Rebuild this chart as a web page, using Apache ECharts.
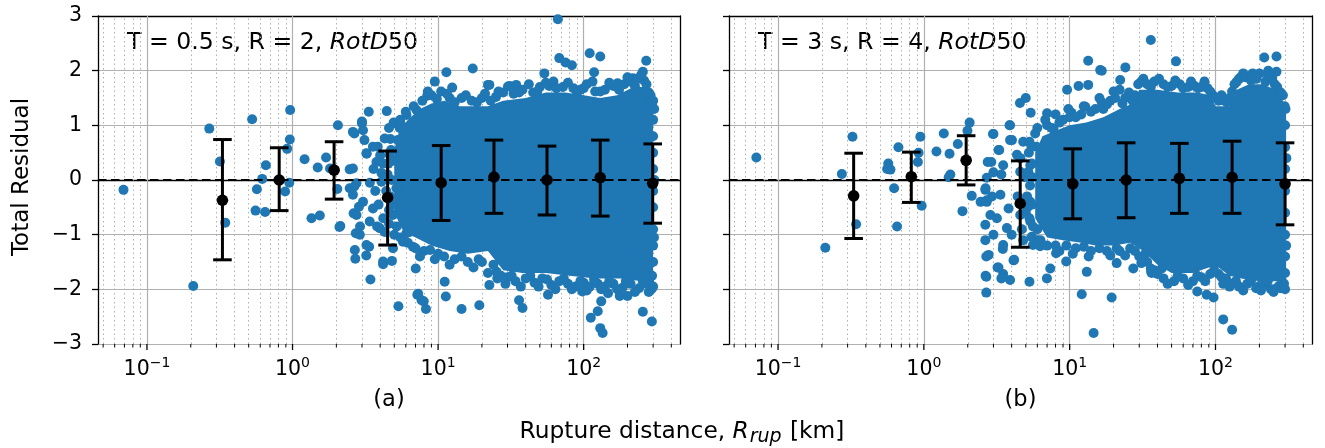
<!DOCTYPE html>
<html>
<head>
<meta charset="utf-8">
<script src="https://cdn.jsdelivr.net/npm/echarts@6/dist/echarts.min.js"></script>
<style>
  html, body { margin: 0; padding: 0; background: #fff; }
  #chart { width: 1325px; height: 448px; }
</style>
</head>
<body>
<div id="chart"></div>
<script>
// binned mean and error bars (distance in km, residual)
const binDistA = [0.33, 0.81, 1.93, 4.5, 10.5, 24.2, 56, 130, 298]
const meanA = [-0.37, 0.0, 0.18, -0.32, -0.05, 0.055, 0.0, 0.045, -0.06]
const lowA = [-1.46, -0.56, -0.35, -1.19, -0.74, -0.61, -0.64, -0.66, -0.79]
const highA = [0.74, 0.59, 0.70, 0.53, 0.63, 0.73, 0.62, 0.73, 0.66]

const binDistB = [0.33, 0.82, 1.95, 4.58, 10.5, 24.4, 56.5, 130, 300]
const meanB = [-0.29, 0.06, 0.36, -0.43, -0.07, 0.0, 0.03, 0.05, -0.07]
const lowB = [-1.07, -0.41, -0.09, -1.23, -0.71, -0.69, -0.61, -0.61, -0.82]
const highB = [0.49, 0.51, 0.81, 0.35, 0.57, 0.68, 0.67, 0.71, 0.68]

// residual points, panel (a): isolated records
const sparseA = [
  [0.069, -0.18], [0.208, -1.94], [0.268, 0.94], [0.317, 0.34], [0.345, -0.78], [0.528, 1.11],
  [0.569, -0.17], [0.557, -0.56], [0.648, -0.585], [0.656, 0.27], [0.619, 0.02], [0.963, 1.28],
  [0.958, 0.74], [0.918, 0.57], [0.95, -0.05], [0.889, -0.21], [1.21, 0.38], [1.49, 0.23],
  [1.35, -0.70], [1.54, -0.65], [1.70, 0.41], [1.81, 0.21], [2.05, 1.0], [2.03, -0.165],
  [2.10, -0.86], [2.47, 0.195], [2.66, 0.85], [3.0, 1.04], [3.34, 1.25], [3.12, 0.73],
  [3.23, 0.48], [3.85, 0.61], [4.44, 1.26], [5.04, 1.04], [2.63, -0.61], [2.72, -0.975],
  [2.68, -1.28], [2.70, -1.44], [3.21, -1.38], [3.36, -1.22], [3.43, -1.82], [4.19, -1.54],
  [4.82, -1.48], [5.34, -2.31], [7.02, -1.62], [7.2, -2.10], [7.97, -2.22], [8.25, -2.36],
  [2.91, -0.85], [2.86, -0.49], [2.66, -0.12], [3.81, -0.85], [6.06, -0.975], [6.72, -1.22],
  [6.38, -0.61], [17.3, 2.04], [11.4, 1.97], [9.49, 1.80], [12.5, 1.69], [22.0, 1.74],
  [8.42, 1.54], [3.0, 1.07], [7.1, 1.28], [4.95, 1.05], [5.3, 0.73], [2.6, 0.21],
  [2.47, -0.15], [2.13, -0.84], [4.19, -1.49], [11.1, -1.86], [11.3, -2.13], [14.5, -2.36],
  [19.2, -2.29], [7.3, -2.08], [7.7, -2.2], [66.5, 2.94], [110, 2.32], [130, 2.26],
  [269, 2.18], [68, 2.23], [75, 2.15], [83, 2.1], [53.7, 1.95], [118, 1.97],
  [34.4, 1.74], [30.2, 1.71], [218, 1.86], [171, 1.77], [255, 1.98], [22.5, 1.74],
  [36, -2.2], [38, -2.34], [56.9, -2.1], [97.9, -2.04], [112, -2.52], [125, -2.40],
  [132, -2.22], [130, -2.71], [135, -2.8], [147, -2.07], [177, -2.12], [200, -2.12],
  [255, -2.41], [294, -2.59], [282, -1.86], [22.5, -1.92], [25.2, -1.68],
  [2.6, 0.88], [3.05, 0.91], [3.22, 0.49], [3.77, 0.33], [4.08, 0.13], [4.08, -0.03],
  [2.75, -0.06], [2.6, -0.27], [3.05, -0.4], [3.57, -0.52], [2.75, -0.64], [3.39, -0.76],
  [3.97, -0.88], [2.9, -1.0], [4.9, -0.64], [4.9, -1.25], [3.22, -1.19], [5.17, -0.15],
  [3.57, 0.61], [4.65, 0.46], [4.3, 0.76], [5.45, 0.95], [6.06, 1.19], [6.38, -0.95],
  [5.73, -1.13],
  [4.2, 0.3], [4.4, -0.2], [4.6, -0.55], [4.5, 0.1], [4.0, 0.45], [4.7, 0.75], [5.0, 0.35],
  [5.2, -0.85], [5.0, -1.0], [4.3, -0.95], [4.6, 0.95], [5.6, 1.0], [3.6, 0.2], [3.7, -0.2],
  [3.4, -0.05], [3.9, -0.45], [4.2, -0.7],
  [4.55, 0.3], [4.7, -0.3], [4.75, 0.55], [4.6, -0.8], [4.8, 0.0], [4.85, -0.45]
]
// panel (a): records on the ragged rim of the dense cloud
const rimA = [
  [9, 1.55], [10.5, 1.62], [12, 1.5], [14.5, 1.5], [17, 1.45], [20, 1.5], [25, 1.52], [28, 1.6],
  [33, 1.58], [38, 1.65], [45, 1.6], [50, 1.7], [58, 1.72], [62, 1.8], [72, 1.7], [85, 1.68],
  [95, 1.65], [105, 1.75], [120, 1.62], [140, 1.65], [160, 1.72], [190, 1.75], [210, 1.8],
  [235, 1.85], [260, 1.82], [280, 1.6], [295, 1.4],
  [5.5, 1.1], [6, 1.25], [6.8, 1.35], [7.8, 1.45], [8.5, 1.62], [9.8, 1.48], [11.5, 1.58],
  [13, 1.42], [15.5, 1.55], [18.5, 1.42], [21, 1.58], [23, 1.45], [26, 1.62], [31, 1.72],
  [36, 1.6], [42, 1.75], [48, 1.62], [55, 1.78], [65, 1.68], [78, 1.78], [90, 1.6], [100, 1.68],
  [115, 1.8], [130, 1.62], [150, 1.78], [175, 1.65], [200, 1.88], [225, 1.72], [248, 1.92],
  [270, 1.75], [288, 1.55], [300, 1.45],
  [8, -1.3], [10, -1.35], [13, -1.45], [16, -1.5], [19, -1.45], [24, -1.55], [27, -1.75],
  [30, -1.78], [34, -1.85], [40, -1.8], [46, -1.88], [52, -1.8], [60, -1.92], [68, -1.85],
  [78, -1.9], [88, -1.95], [100, -1.88], [110, -1.95], [125, -1.9], [140, -1.95], [160, -1.9],
  [185, -1.97], [210, -1.9], [240, -1.98], [270, -1.9], [292, -2.0],
  [5.5, -1.05], [6.2, -1.15], [7, -1.25], [7.5, -1.4], [8.8, -1.28], [9.5, -1.45], [11, -1.4],
  [12, -1.55], [14.5, -1.4], [17.5, -1.6], [20, -1.5], [22, -1.7], [25.5, -1.8], [29, -1.9],
  [32, -1.75], [37, -1.95], [43, -1.75], [49, -1.95], [56, -1.82], [64, -2.0], [73, -1.8],
  [83, -2.0], [95, -1.85], [105, -2.02], [118, -1.82], [132, -2.0], [150, -1.85], [170, -2.0],
  [195, -1.85], [225, -2.05], [255, -1.85], [280, -2.05], [300, -1.95],
  [300, 1.1], [300, 0.8], [300, 0.5], [300, 0.2], [300, -0.2], [300, -0.5], [300, -0.9],
  [300, -1.2], [300, -1.5], [295, -1.75], [305, 1.3], [306, 0.0], [304, -1.05]
]
// panel (a): outline of the solid cloud (records overlap completely inside)
const coreA = [
  [5.0, 0.55], [5.4, 0.9], [6.2, 1.1], [7.5, 1.3], [9, 1.4], [11, 1.45], [14, 1.35], [18, 1.35],
  [22, 1.35], [28, 1.45], [40, 1.5], [55, 1.6], [75, 1.6], [100, 1.55], [130, 1.5], [170, 1.55],
  [220, 1.7], [270, 1.7], [300, 1.3],
  [300, -1.8], [250, -1.85], [180, -1.8], [120, -1.8], [80, -1.75], [55, -1.7], [38, -1.7],
  [28, -1.65], [22, -1.3], [16, -1.35], [12, -1.3], [9, -1.2], [7, -1.05], [5.8, -0.95], [5.0, -0.6]
]

// residual points, panel (b)
const sparseB = [
  [0.071, 0.41], [0.211, -1.24], [0.274, 0.11], [0.324, 0.79], [0.343, -0.81], [0.57, 0.3],
  [0.56, 0.2], [0.59, 0.19], [0.625, -0.15], [0.655, -0.85], [0.669, 0.60], [0.946, 0.79],
  [0.92, 0.5], [0.91, 0.33], [0.966, -0.47], [1.22, 0.52], [1.37, 0.85], [1.50, 0.48],
  [1.52, 0.1], [1.48, 0.05], [1.71, 0.66], [2.06, 1.05], [1.99, 0.9], [2.13, -0.29],
  [1.84, -0.57], [3.0, 0.84], [3.29, 0.55], [2.74, 0.33], [2.64, -0.18], [2.7, -0.37],
  [3.87, 1.0], [4.02, 0.73], [2.64, -1.1], [2.68, -1.40], [2.65, -1.75], [2.68, -2.06],
  [3.2, -1.6], [3.5, -1.72], [3.9, -1.83], [3.48, -1.26], [4.12, -1.47], [5.3, -1.86],
  [6.27, -1.21], [13.4, 2.18], [16.2, 2.01], [9.6, 1.65], [11.5, 1.72], [13.4, 1.74],
  [4.56, 1.41], [5.0, 1.5], [5.4, 1.23], [7.0, 1.22], [3.9, 1.0], [2.98, 0.84],
  [3.25, 0.55], [3.9, 0.73], [7.74, 0.94], [10.3, 1.23], [12.8, 1.34], [2.9, 0.33],
  [3.5, 0.27], [2.65, -0.15], [2.7, -0.4], [2.86, -0.64], [2.64, -0.82], [2.78, -1.37],
  [2.68, -1.77], [3.25, -1.6], [3.4, -1.8], [4.16, -1.46], [6.98, -1.8], [7.36, -1.62],
  [8.07, -1.34], [9.47, -1.49], [13.1, -1.68], [12.1, -2.09], [14.6, -2.80], [5.6, -1.19],
  [5.5, -1.04], [36, 2.56], [53.6, 2.17], [24.1, 2.06], [16.6, 2.0], [22.2, 1.83],
  [216, 2.24], [262, 1.98], [113, -2.55], [130, -2.74], [97, -2.15], [75, -2.04],
  [87, -2.1], [19.4, -2.15], [113, -1.9], [200, -1.94], [250, -2.05], [280, -1.98],
  [36.5, -1.70], [27.3, -1.62], [21, -1.52], [20, 1.62], [22, 1.65], [16.6, 1.42],
  [230, 2.0], [262, 2.26], [150, 1.89], [180, 1.95], [42.8, -1.62], [36.2, -1.68],
  [2.7, 0.04], [3.0, 0.14], [3.4, 0.1], [2.45, -0.4], [2.93, -0.3], [3.35, -0.27],
  [3.81, -0.52], [3.17, -0.7], [3.71, -0.88], [3.0, -1.0], [3.5, -1.19], [4.0, -1.0],
  [4.58, -0.64], [5.37, -0.76], [5.37, -0.4], [4.35, 0.46], [4.8, 0.7], [5.9, 0.61],
  [5.37, 0.27], [4.58, 0.15],
  [4.6, 0.4], [4.9, 0.05], [5.1, -0.3], [5.0, -0.6], [4.7, -0.9], [5.3, 0.7], [5.8, 0.85],
  [6.0, -0.9], [5.5, 0.3], [4.4, -0.3], [4.8, -1.1], [6.3, -1.1],
  [5.2, 0.15], [5.35, -0.1], [5.5, -0.45], [5.25, 0.5], [5.45, 0.62], [5.6, -0.85],
  [5.3, -0.7], [5.55, 0.05], [5.15, -0.5]
]
const rimB = [
  [7, 1.0], [8.5, 1.05], [10, 1.15], [12, 1.2], [14, 1.25], [17, 1.3], [19, 1.45], [24, 1.5],
  [28, 1.55], [31, 1.8], [34, 1.75], [38, 1.8], [44, 1.75], [50, 1.72], [57, 1.75], [65, 1.7],
  [72, 1.72], [80, 1.7], [88, 1.68], [96, 1.55], [105, 1.45], [115, 1.45], [125, 1.5],
  [135, 1.75], [145, 1.85], [160, 1.88], [190, 1.85], [230, 1.9], [255, 1.75], [280, 1.6],
  [298, 1.35],
  [6, 0.95], [6.8, 1.1], [7.5, 0.95], [8, 1.2], [9, 1.1], [9.8, 1.3], [11, 1.15], [12.5, 1.35],
  [15, 1.3], [16, 1.5], [18, 1.38], [20.5, 1.5], [23, 1.4], [25.5, 1.6], [27, 1.45], [29.5, 1.75],
  [32, 1.85], [36, 1.7], [41, 1.85], [47, 1.7], [53, 1.82], [60, 1.68], [68, 1.8], [76, 1.68],
  [84, 1.8], [92, 1.62], [100, 1.5], [110, 1.55], [120, 1.42], [130, 1.62], [140, 1.8],
  [155, 1.95], [175, 1.82], [200, 1.95], [220, 1.8], [245, 1.85], [265, 1.7], [290, 1.55],
  [302, 1.3],
  [8, -1.2], [11, -1.25], [14, -1.3], [18, -1.3], [22, -1.3], [26, -1.25], [30, -1.4],
  [34, -1.5], [38, -1.65], [44, -1.8], [52, -1.85], [60, -1.8], [70, -1.85], [80, -1.78],
  [92, -1.72], [105, -1.72], [118, -1.8], [130, -1.9], [145, -1.95], [165, -1.9], [190, -1.98],
  [215, -1.92], [240, -2.0], [270, -1.95], [295, -1.9],
  [6, -1.1], [7, -1.2], [8.5, -1.3], [9.5, -1.2], [10.5, -1.35], [12.5, -1.22], [13.5, -1.4],
  [16, -1.25], [19, -1.38], [21, -1.25], [24, -1.38], [28, -1.3], [31, -1.52], [33, -1.35],
  [36, -1.62], [40, -1.72], [47, -1.9], [55, -1.75], [65, -1.92], [75, -1.75], [85, -1.85],
  [98, -1.65], [110, -1.78], [125, -1.95], [138, -1.85], [155, -2.02], [175, -1.85], [205, -2.02],
  [228, -1.85], [255, -2.0], [285, -1.85], [300, -2.0],
  [300, 1.0], [300, 0.6], [300, 0.2], [300, -0.2], [300, -0.6], [300, -1.0], [300, -1.4],
  [300, -1.7], [306, 0.4], [305, -1.2]
]
const coreB = [
  [5.8, 0.5], [6.5, 0.8], [8, 0.9], [10, 1.0], [13, 1.05], [17, 1.15], [22, 1.3], [27, 1.4],
  [30, 1.65], [40, 1.65], [55, 1.6], [75, 1.6], [92, 1.55], [100, 1.35], [125, 1.35], [140, 1.65],
  [170, 1.75], [210, 1.75], [260, 1.65], [290, 1.45], [305, 1.2],
  [305, -1.8], [260, -1.85], [200, -1.85], [150, -1.8], [125, -1.75], [105, -1.6], [90, -1.6],
  [70, -1.7], [50, -1.7], [40, -1.55], [32, -1.3], [26, -1.15], [20, -1.2], [15, -1.2],
  [12, -1.15], [9, -1.1], [7, -1.05], [5.8, -0.7]
]

// axis ticks
const majorTicks = [0.1, 1, 10, 100]
const minorTicks = [0.05, 0.06, 0.07, 0.08, 0.09, 0.2, 0.3, 0.4, 0.5, 0.6, 0.7, 0.8, 0.9,
  2, 3, 4, 5, 6, 7, 8, 9, 20, 30, 40, 50, 60, 70, 80, 90, 200, 300, 400]
const X_MIN = 0.0461
const X_MAX = 459
const Y_MIN = -3
const Y_MAX = 3

const FONT = 'DejaVu Sans'
const BLUE = '#1f77b4'
const GRID_GREY = '#b0b0b0'
const MINUS = '\u2212'
const SPINE = { color: '#000', width: 1.3 }

function xAxisFor(gridIndex) {
  return {
    type: 'log',
    logBase: 10,
    gridIndex,
    min: X_MIN,
    max: X_MAX,
    axisLine: { show: true, lineStyle: SPINE },
    axisTick: { show: false },
    splitLine: { show: false },
    minorTick: { show: false },
    axisLabel: {
      margin: 12,
      showMinLabel: false,
      showMaxLabel: false,
      formatter: function(v) {
        const k = Math.log10(v)
        const r = Math.round(k)
        if (Math.abs(k - r) > 1e-6) return ''
        return '{b|10}{s|' + (r < 0 ? MINUS + (-r) : r) + '}'
      },
      rich: {
        b: { fontFamily: FONT, fontSize: 20.5, color: '#000', lineHeight: 28 },
        s: { fontFamily: FONT, fontSize: 14, color: '#000', lineHeight: 14, verticalAlign: 'top' }
      }
    }
  }
}

// top / right spines
function spineAxis(gridIndex, position) {
  return {
    type: 'value',
    gridIndex,
    position,
    min: 0,
    max: 1,
    axisLine: { show: true, onZero: false, lineStyle: SPINE },
    axisTick: { show: false },
    axisLabel: { show: false },
    splitLine: { show: false }
  }
}

function yAxisFor(gridIndex, showLabels) {
  return {
    type: 'value',
    gridIndex,
    position: 'left',
    min: Y_MIN,
    max: Y_MAX,
    interval: 1,
    axisLine: { show: true, onZero: false, lineStyle: SPINE },
    axisTick: { show: true, length: 6, lineStyle: SPINE },
    splitLine: { show: true, lineStyle: { color: GRID_GREY, width: 1.2 } },
    axisLabel: {
      show: showLabels,
      margin: 16,
      fontFamily: FONT,
      fontSize: 20.5,
      color: '#000',
      formatter: v => (v < 0 ? MINUS + (-v) : String(v))
    }
  }
}

// ticks under the x axis, plus the vertical grid lines
function tickSeries(g) {
  const ticks = majorTicks.map(v => [v, 1]).concat(minorTicks.map(v => [v, 0]))
  return {
    type: 'custom',
    xAxisIndex: g,
    yAxisIndex: g,
    clip: false,
    silent: true,
    z: 1,
    data: ticks,
    encode: { x: 0 },
    renderItem(params, api) {
      const p = api.coord([api.value(0), Y_MIN])
      const major = api.value(1) === 1
      const len = major ? 6 : 3.5
      return {
        type: 'line',
        shape: { x1: p[0], y1: p[1], x2: p[0], y2: p[1] + len },
        style: { stroke: '#000', lineWidth: major ? 1.3 : 1 }
      }
    },
    markLine: {
      silent: true,
      symbol: 'none',
      z: 1,
      label: { show: false },
      animation: false,
      data: majorTicks.map(v => ({ xAxis: v, lineStyle: { color: GRID_GREY, width: 1.2, type: 'solid' } }))
        .concat(minorTicks.map(v => ({ xAxis: v, lineStyle: { color: GRID_GREY, width: 1, type: [1.5, 3] } })))
    }
  }
}

function coreSeries(g, core) {
  return {
    type: 'custom',
    xAxisIndex: g,
    yAxisIndex: g,
    silent: true,
    z: 2,
    data: [core[0]],
    encode: { x: 0, y: 1 },
    renderItem(params, api) {
      const pts = core.map(p => api.coord(p))
      return { type: 'polygon', shape: { points: pts }, style: { fill: BLUE } }
    }
  }
}

function scatterSeries(g, pts) {
  return {
    type: 'scatter',
    xAxisIndex: g,
    yAxisIndex: g,
    symbol: 'circle',
    symbolSize: 10,
    itemStyle: { color: BLUE, opacity: 1 },
    z: 2,
    data: pts,
    markLine: {
      silent: true,
      symbol: 'none',
      z: 3,
      label: { show: false },
      animation: false,
      lineStyle: { color: '#000', width: 2.2, type: [8.5, 4.5] },
      data: [{ yAxis: 0 }]
    }
  }
}

function errorSeries(g, dist, mean, low, high) {
  return {
    type: 'custom',
    xAxisIndex: g,
    yAxisIndex: g,
    z: 4,
    data: dist.map((d, i) => [d, mean[i], low[i], high[i]]),
    encode: { x: 0, y: [1, 2, 3] },
    renderItem(params, api) {
      const x = api.value(0)
      const m = api.coord([x, api.value(1)])
      const lo = api.coord([x, api.value(2)])
      const hi = api.coord([x, api.value(3)])
      const st = { stroke: '#000', lineWidth: 3 }
      return {
        type: 'group',
        children: [
          { type: 'line', shape: { x1: lo[0], y1: lo[1], x2: hi[0], y2: hi[1] }, style: st },
          { type: 'line', shape: { x1: hi[0] - 9.3, y1: hi[1], x2: hi[0] + 9.3, y2: hi[1] }, style: st },
          { type: 'line', shape: { x1: lo[0] - 9.3, y1: lo[1], x2: lo[0] + 9.3, y2: lo[1] }, style: st },
          { type: 'circle', shape: { cx: m[0], cy: m[1], r: 5.8 }, style: { fill: '#000' } }
        ]
      }
    }
  }
}

function panelText(x, y, head, tail) {
  return {
    type: 'text',
    silent: true,
    style: {
      x, y,
      align: 'left',
      verticalAlign: 'middle',
      text: '{n|' + head + '}{i|RotD}{n|' + tail + '}',
      rich: {
        n: { fontFamily: FONT, fontSize: 23.6, fill: '#000' },
        i: { fontFamily: FONT, fontSize: 23.6, fontStyle: 'italic', fill: '#000' }
      }
    }
  }
}

const chart = echarts.init(document.getElementById('chart'))

const option = {
  animation: false,
  backgroundColor: '#fff',
  grid: [
    { left: 98, top: 16, width: 582, height: 328 },
    { left: 729, top: 16, width: 583, height: 328 }
  ],
  xAxis: [xAxisFor(0), xAxisFor(1), spineAxis(0, 'top'), spineAxis(1, 'top')],
  yAxis: [yAxisFor(0, true), yAxisFor(1, false), spineAxis(0, 'right'), spineAxis(1, 'right')],
  series: [
    tickSeries(0),
    tickSeries(1),
    coreSeries(0, coreA),
    coreSeries(1, coreB),
    scatterSeries(0, sparseA.concat(rimA)),
    scatterSeries(1, sparseB.concat(rimB)),
    errorSeries(0, binDistA, meanA, lowA, highA),
    errorSeries(1, binDistB, meanB, lowB, highB)
  ],
  graphic: [
    panelText(127, 43, 'T = 0.5 s, R = 2, ', '50'),
    panelText(758, 43, 'T = 3 s, R = 4, ', '50'),
    {
      type: 'text', silent: true,
      style: { x: 389, y: 400, text: '(a)', align: 'center', verticalAlign: 'middle', fontFamily: FONT, fontSize: 22.5, fill: '#000' }
    },
    {
      type: 'text', silent: true,
      style: { x: 1020.5, y: 400, text: '(b)', align: 'center', verticalAlign: 'middle', fontFamily: FONT, fontSize: 22.5, fill: '#000' }
    },
    {
      type: 'text', silent: true,
      style: {
        x: 682, y: 432, align: 'center', verticalAlign: 'middle',
        text: '{n|Rupture distance, }{i|R}{sub|rup}{n| [km]}',
        rich: {
          n: { fontFamily: FONT, fontSize: 23.3, fill: '#000', lineHeight: 30 },
          i: { fontFamily: FONT, fontSize: 23.3, fontStyle: 'italic', fill: '#000', lineHeight: 30 },
          sub: { fontFamily: FONT, fontSize: 19, fontStyle: 'italic', fill: '#000', lineHeight: 17, verticalAlign: 'bottom', padding: [0, 1, 0, 1] }
        }
      }
    },
    {
      type: 'text', silent: true,
      x: 22, y: 177, rotation: Math.PI / 2,
      style: { x: 0, y: 0, text: 'Total Residual', align: 'center', verticalAlign: 'middle', fontFamily: FONT, fontSize: 23, fill: '#000' }
    }
  ]
}

chart.setOption(option)
</script>
</body>
</html>
